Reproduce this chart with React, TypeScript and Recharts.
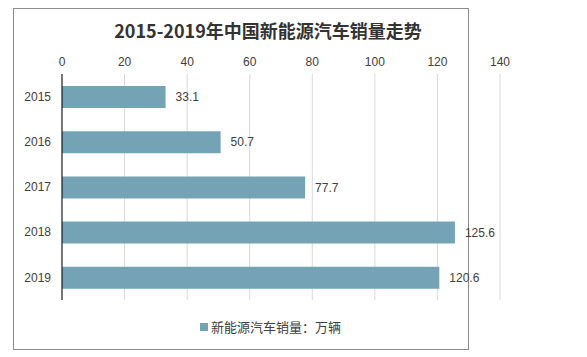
import { BarChart, Bar, XAxis, YAxis, CartesianGrid, LabelList } from 'recharts'

// ── Data ─────────────────────────────────────────────────────────────────

const YEARS = ['2015', '2016', '2017', '2018', '2019']
const SALES = [33.1, 50.7, 77.7, 125.6, 120.6]
const X_TICKS = [0, 20, 40, 60, 80, 100, 120, 140]

const SERIES_NAME = '新能源汽车销量：万辆'
const TITLE = '2015-2019年中国新能源汽车销量走势'

const data = YEARS.map((year, i) => ({ year, sales: SALES[i] }))

// ── Styles ───────────────────────────────────────────────────────────────

const BAR_COLOR = '#74a3b6'
const GRID_STROKE = '#d9d9d9'
const TEXT_COLOR = '#404040'
const FONT = '"Liberation Sans", Arial, "Noto Sans CJK SC", sans-serif'
const TICK_STYLE = { fontSize: 12, fill: TEXT_COLOR, fontFamily: FONT }

export default function App() {
  return (
    <div style={{ position: 'absolute', left: 0, top: 0, width: 587, height: 357, background: '#fff' }}>
      <div
        style={{
          position: 'absolute', left: 13, top: 8, width: 454, height: 340,
          border: '1px solid #8c8c8c', boxSizing: 'content-box',
        }}
      />
      <div
        style={{
          position: 'absolute', left: 68, top: 17, width: 400, textAlign: 'center',
          fontFamily: '"Noto Sans CJK SC", sans-serif', fontWeight: 'bold', fontSize: 18, color: '#333',
        }}
      >
        {TITLE}
      </div>
      <BarChart
        width={587}
        height={357}
        data={data}
        layout="vertical"
        margin={{ top: 60, right: 87, left: 22, bottom: 57 }}
        style={{ position: 'absolute', left: 0, top: 0 }}
      >
        <CartesianGrid horizontal={false} stroke={GRID_STROKE} />
        <XAxis
          type="number"
          orientation="top"
          domain={[0, 140]}
          ticks={X_TICKS}
          axisLine={false}
          tickLine={false}
          tickSize={0}
          tickMargin={8}
          height={14}
          tick={TICK_STYLE}
        />
        <YAxis
          type="category"
          dataKey="year"
          width={40}
          axisLine={{ stroke: '#000' }}
          tickLine={false}
          tickSize={0}
          tickMargin={11}
          tick={TICK_STYLE}
        />
        <Bar dataKey="sales" name={SERIES_NAME} fill={BAR_COLOR} barSize={22} isAnimationActive={false}>
          <LabelList dataKey="sales" position="right" offset={10} style={TICK_STYLE} />
        </Bar>
      </BarChart>
      <div
        style={{
          position: 'absolute', left: 200, top: 317, display: 'flex', alignItems: 'center',
          fontFamily: '"Noto Sans CJK SC", sans-serif', fontSize: 13, color: TEXT_COLOR,
        }}
      >
        <span style={{ width: 8, height: 8, background: BAR_COLOR, marginRight: 3 }} />
        {SERIES_NAME}
      </div>
    </div>
  )
}
